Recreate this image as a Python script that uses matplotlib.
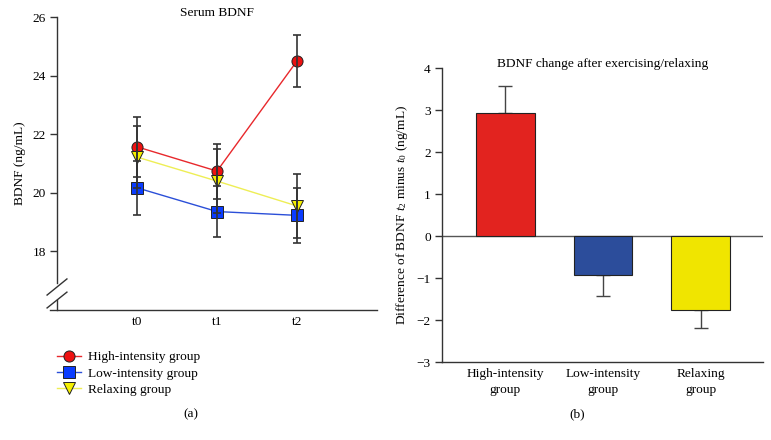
import matplotlib
matplotlib.use("Agg")
import matplotlib.pyplot as plt
import numpy as np

plt.rcParams['font.family'] = ['Liberation Serif', 'DejaVu Serif']
plt.rcParams['mathtext.fontset'] = 'custom'
plt.rcParams['mathtext.rm'] = 'Liberation Serif'
plt.rcParams['mathtext.it'] = 'Liberation Serif:italic'
plt.rcParams['axes.unicode_minus'] = True

# ---------------- data ----------------
timepoints = ["t0", "t1", "t2"]
high_mean = [21.57, 20.74, 24.50]
high_err = [1.02, 0.94, 0.89]
low_mean = [20.17, 19.36, 19.23]
low_err = [0.93, 0.86, 0.95]
relax_mean = [21.22, 20.40, 19.55]
relax_err = [1.06, 1.10, 1.10]
series_names = ["High-intensity group", "Low-intensity group", "Relaxing group"]

groups = ["High-intensity\ngroup", "Low-intensity\ngroup", "Relaxing\ngroup"]
diff_mean = [2.93, -0.93, -1.75]
diff_err = [0.63, 0.49, 0.45]
left_yticks = [18, 20, 22, 24, 26]
right_yticks = [-3, -2, -1, 0, 1, 2, 3, 4]

# ---------------- figure ----------------
W, H = 771, 440
fig = plt.figure(figsize=(W / 100, H / 100), dpi=100)

def frac_box(x0, y0, x1, y1):
    return [x0 / W, 1 - y1 / H, (x1 - x0) / W, (y1 - y0) / H]

axc = '#333333'
FS = 9.6

# ---------- panel (a) ----------
ax1 = fig.add_axes(frac_box(57, 17, 377, 310))
x = np.arange(1, len(timepoints) + 1)
styles = [
    (high_mean, high_err, '#e8282c', '#ee1111', 'o'),
    (low_mean, low_err, '#2b4fd8', '#0a3cff', 's'),
    (relax_mean, relax_err, '#eeee55', '#f5f000', 'v'),
]
handles = []
for (m, e, lc, fc, mk), name in zip(styles, series_names):
    h, = ax1.plot(x, m, color=lc, lw=1.0, marker=mk, markersize=8,
                  markerfacecolor=fc, markeredgecolor='#222222',
                  markeredgewidth=0.7, label=name, zorder=3)
    handles.append(h)
    ax1.errorbar(x, m, yerr=e, fmt='none', ecolor='#333333', elinewidth=1.2,
                 capsize=3, capthick=1.2, zorder=4)

ax1.set_xlim(0, 4)
ax1.set_ylim(16, 26)
ax1.set_xticks(x)
ax1.set_xticklabels(timepoints)
ax1.set_yticks(left_yticks)
for s in ['top', 'right', 'left', 'bottom']:
    ax1.spines[s].set_visible(False)
ax1.tick_params(axis='x', length=0, pad=4, labelsize=FS)
ax1.tick_params(axis='y', length=5, width=1.0, color=axc, pad=3, labelsize=FS)
ax1.set_ylabel("BDNF (ng/mL)", fontsize=FS, labelpad=5)
# axis lines with break
ax1.plot([0, 0], [1, 0.092], transform=ax1.transAxes, color=axc, lw=1.0, clip_on=False)
ax1.plot([0, 0], [0.033, 0], transform=ax1.transAxes, color=axc, lw=1.0, clip_on=False)
ax1.plot([-0.022, 1], [0, 0], transform=ax1.transAxes, color=axc, lw=1.0, clip_on=False)
ax1.plot([-0.031, 0.031], [0.051, 0.106], transform=ax1.transAxes, color=axc, lw=1.0, clip_on=False)
ax1.plot([-0.031, 0.031], [0.007, 0.061], transform=ax1.transAxes, color=axc, lw=1.0, clip_on=False)
ax1.text(0.5, 1.012, "Serum BDNF", transform=ax1.transAxes, ha='center', va='center', fontsize=FS)

fig.legend(handles=handles, loc='upper left', bbox_to_anchor=(57 / W, 1 - 351 / H),
           frameon=False, fontsize=FS, borderpad=0, borderaxespad=0,
           handlelength=1.8, handletextpad=0.55, labelspacing=0.3)
fig.text(191 / W, 1 - 414 / H, "(a)", ha='center', va='center', fontsize=FS)

# ---------- panel (b) ----------
ax2 = fig.add_axes(frac_box(442, 68, 763, 362))
xb = np.arange(len(groups))
bar_colors = ['#e2231f', '#2c4d9b', '#f0e500']
ax2.bar(xb, diff_mean, width=0.6, color=bar_colors, edgecolor='#222222', linewidth=0.8, zorder=2)
lower = [0 if v > 0 else e for v, e in zip(diff_mean, diff_err)]
upper = [e if v > 0 else 0 for v, e in zip(diff_mean, diff_err)]
ax2.errorbar(xb, diff_mean, yerr=[lower, upper], fmt='none', ecolor='#444444',
             elinewidth=1.0, capsize=5, capthick=1.0, zorder=1)
ax2.axhline(0, color='#555555', lw=1.0, zorder=1)
ax2.set_xlim(-0.65, 2.64)
ax2.set_ylim(-3, 4)
ax2.set_yticks(right_yticks)
ax2.set_xticks(xb)
ax2.set_xticklabels(groups, linespacing=1.45)
for s in ['top', 'right']:
    ax2.spines[s].set_visible(False)
for s in ['left', 'bottom']:
    ax2.spines[s].set_color(axc)
    ax2.spines[s].set_linewidth(1.0)
ax2.tick_params(axis='x', length=0, pad=4, labelsize=FS)
ax2.tick_params(axis='y', length=5, width=1.0, color=axc, pad=3, labelsize=FS)
ax2.set_ylabel("Difference of BDNF $t_2$ minus $t_0$ (ng/mL)", fontsize=FS, labelpad=5)
ax2.text(0.5, 1.014, "BDNF change after exercising/relaxing", transform=ax2.transAxes,
         ha='center', va='center', fontsize=FS)
fig.text(577 / W, 1 - 414 / H, "(b)", ha='center', va='center', fontsize=FS)

fig.savefig("out.png", dpi=100)
